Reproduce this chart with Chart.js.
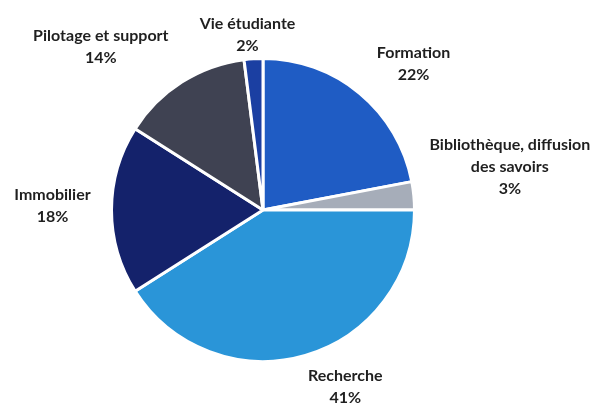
<!DOCTYPE html>
<html>
<head>
<meta charset="utf-8">
<script src="https://cdn.jsdelivr.net/npm/chart.js@4"></script>
<style>
  html, body { margin: 0; padding: 0; background: #fff; }
  #wrap { width: 603px; height: 405px; }
</style>
</head>
<body>
<div id="wrap"><canvas id="myChart"></canvas></div>
<script>
// donnees du graphique
const categories = ['Formation', 'Bibliothèque, diffusion des savoirs', 'Recherche', 'Immobilier', 'Pilotage et support', 'Vie étudiante'];
const etiquettes = [['Formation'], ['Bibliothèque, diffusion', 'des savoirs'], ['Recherche'], ['Immobilier'], ['Pilotage et support'], ['Vie étudiante']];
const valeurs = [22, 3, 41, 18, 14, 2];

const couleurs = ['#1f5cc4', '#a6adb9', '#2a95d8', '#14226b', '#3f4252', '#1b3fa2'];
// decalage des etiquettes par rapport au bord de la part
const decalages = [[54, -29], [96, -29], [40, 31], [-59, -4], [-81, -35], [-6, -24]];

const pluginEtiquettes = {
  id: 'etiquettes',
  afterDatasetsDraw(chart) {
    const ctx = chart.ctx;
    const meta = chart.getDatasetMeta(0);
    const total = valeurs.reduce((a, b) => a + b, 0);
    ctx.save();
    ctx.font = 'bold 16px Lato';
    ctx.fillStyle = '#1f1f1f';
    ctx.textAlign = 'center';
    ctx.textBaseline = 'middle';
    meta.data.forEach(function (arc, i) {
      const p = arc.getProps(['x', 'y', 'startAngle', 'endAngle', 'outerRadius'], true);
      const mid = (p.startAngle + p.endAngle) / 2;
      const bx = p.x + Math.cos(mid) * p.outerRadius + decalages[i][0];
      const by = p.y + Math.sin(mid) * p.outerRadius + decalages[i][1];
      const lignes = etiquettes[i].concat([Math.round(valeurs[i] / total * 100) + '%']);
      const h = 22;
      const y0 = by - (lignes.length - 1) * h / 2;
      lignes.forEach(function (l, k) {
        ctx.fillText(l, bx, y0 + k * h);
      });
    });
    ctx.restore();
  }
};

const ctx = document.getElementById('myChart');

new Chart(ctx, {
  type: 'pie',
  data: {
    labels: categories,
    datasets: [{
      data: valeurs,
      backgroundColor: couleurs,
      borderColor: '#ffffff',
      borderWidth: 3
    }]
  },
  options: {
    responsive: true,
    maintainAspectRatio: false,
    animation: false,
    layout: {
      padding: { left: 110, right: 187, top: 56, bottom: 41 }
    },
    plugins: {
      legend: { display: false },
      tooltip: { enabled: false }
    }
  },
  plugins: [pluginEtiquettes]
});
</script>
</body>
</html>
